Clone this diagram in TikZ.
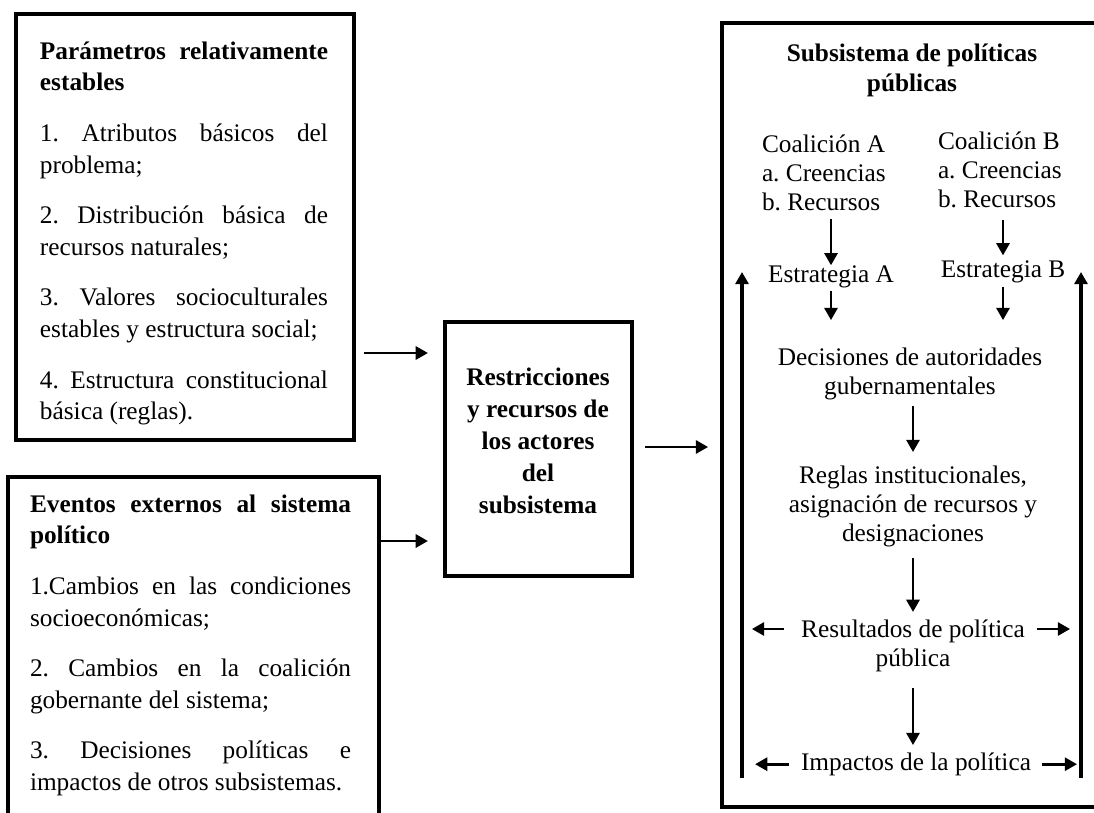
\documentclass[tikz,border=0pt]{standalone}
\usepackage{fontspec}
\setmainfont{Liberation Serif}
\usetikzlibrary{arrows.meta}
\pretolerance=10000
\tolerance=10000
\hbadness=10000
\hyphenpenalty=10000
\frenchspacing
\begin{document}
\begin{tikzpicture}[x=0.474pt,y=-0.474pt,
  box/.style={draw, line width=1.6pt, inner sep=0pt, rectangle},
  txt/.style={inner sep=0pt, outer sep=0pt},
  para/.style={txt, align=justify, font=\fontsize{12}{15}\selectfont},
  rp/.style={txt, font=\fontsize{12}{13.75}\selectfont},
  arr/.style={line width=1.3pt, -{Triangle[length=5.8pt,width=6.2pt]}},
  fb/.style={line width=1.5pt, -{Triangle[length=5.8pt,width=6.2pt]}}]
\clip (0,0) rectangle (1094,813);
% boxes
\node[box, minimum width=160.2pt, minimum height=201.9pt] (box1) at (185,227) {};
\node[box, minimum width=175.9pt, minimum height=167.3pt] (box2) at (193.5,653.5) {};
\node[box, minimum width=88.6pt, minimum height=120.4pt] (mid) at (538.5,449) {};
\node[box, minimum width=183.9pt, minimum height=371.6pt] (rbox) at (916,415) {};
% left texts
\node[para, text width=136.5pt, anchor=north west] (t1) at (40,37) {\frenchspacing\setlength{\parskip}{9pt}\strut\textbf{Parámetros relativamente\linebreak estables}\par
1. Atributos básicos del\linebreak problema;\par
2. Distribución básica de\linebreak recursos naturales;\par
3. Valores socioculturales\linebreak estables y estructura social;\par
4. Estructura constitucional\linebreak básica (reglas).};
\node[para, text width=152.2pt, anchor=north west] (t2) at (30,490) {\frenchspacing\setlength{\parskip}{9pt}\strut\textbf{Eventos externos al sistema\linebreak político}\par
1.Cambios en las condiciones\linebreak socioeconómicas;\par
2. Cambios en la coalición\linebreak gobernante del sistema;\par
3. Decisiones políticas e\linebreak impactos de otros subsistemas.};
\node[txt, align=center, font=\bfseries\fontsize{12}{15.2}\selectfont, anchor=north] (midt) at (538,363) {\strut Restricciones\\y recursos de\\los actores\\del\\subsistema};
% right panel
\node[txt, align=center, font=\bfseries\fontsize{12}{14.2}\selectfont, anchor=north] (rtitle) at (912,41) {\strut Subsistema de políticas\\públicas};
\node[rp, align=left, anchor=north west] (coalA) at (762,132) {\frenchspacing\strut Coalición A\\a. Creencias\\b. Recursos\strut};
\node[rp, align=left, anchor=north west] (coalB) at (938,129) {\frenchspacing\strut Coalición B\\a. Creencias\\b. Recursos\strut};
\node[rp, anchor=base] (estA) at (831,282) {\strut Estrategia A};
\node[rp, anchor=base] (estB) at (1003,278) {\strut Estrategia B};
\node[rp, align=center, anchor=north] (dec) at (910,345) {\strut Decisiones de autoridades\\gubernamentales\strut};
\node[rp, align=center, anchor=north] (reg) at (913,463) {\strut Reglas institucionales,\\asignación de recursos y\\designaciones\strut};
\node[rp, align=center, anchor=north] (res) at (913,617) {\strut Resultados de política\\pública\strut};
\node[rp, anchor=base] (imp) at (916,770) {\strut Impactos de la política};
% helper coordinates
\coordinate (ya) at (0,353);
\coordinate (yb) at (0,541);
\coordinate (yc) at (0,447);
\coordinate (yr) at (0,629);
\coordinate (fbLb) at (742,778);
\coordinate (fbLt) at (742,272);
\coordinate (fbRb) at (1081,778);
\coordinate (fbRt) at (1081,272);
% main connectors
\draw[arr, shorten <=3.9pt, shorten >=7.3pt] (box1.east |- ya) -- (mid.west |- ya);
\draw[arr, shorten >=7.3pt] (box2.east |- yb) -- (mid.west |- yb);
\draw[arr, shorten <=5.4pt, shorten >=5.8pt] (mid.east |- yc) -- (rbox.west |- yc);
% inside subsystem
\draw[arr, shorten >=-1.7pt] (estA.north |- coalA.south) -- (estA.north);
\draw[arr, shorten <=2pt, shorten >=1.1pt] (estB.north |- coalB.south) -- (estB.north);
\draw[arr, shorten >=11.8pt] (estA.south) -- (estA.south |- dec.north);
\draw[arr, shorten >=11.8pt] (estB.south) -- (estB.south |- dec.north);
\draw[arr, shorten <=1.6pt, shorten >=5.2pt] (reg.north |- dec.south) -- (reg.north);
\draw[arr, shorten <=3.9pt, shorten >=2.4pt] (reg.south) -- (res.north);
\draw[arr, shorten <=6.3pt, shorten >=2.2pt] (res.south) -- (res.south |- imp.north);
% feedback lines
\draw[fb] (fbLb) -- (fbLt);
\draw[fb] (fbRb) -- (fbRt);
\draw[arr, shorten <=8pt, shorten >=4.7pt] (res.west |- yr) -- (fbLb |- yr);
\draw[arr, shorten <=5.7pt, shorten >=5.2pt] (res.east |- yr) -- (fbRb |- yr);
\draw[arr, shorten <=5.7pt, shorten >=6.2pt] (imp.west) -- (fbLb |- imp.west);
\draw[arr, shorten <=5.2pt, shorten >=1.9pt] (imp.east) -- (fbRb |- imp.east);
\end{tikzpicture}
\end{document}
